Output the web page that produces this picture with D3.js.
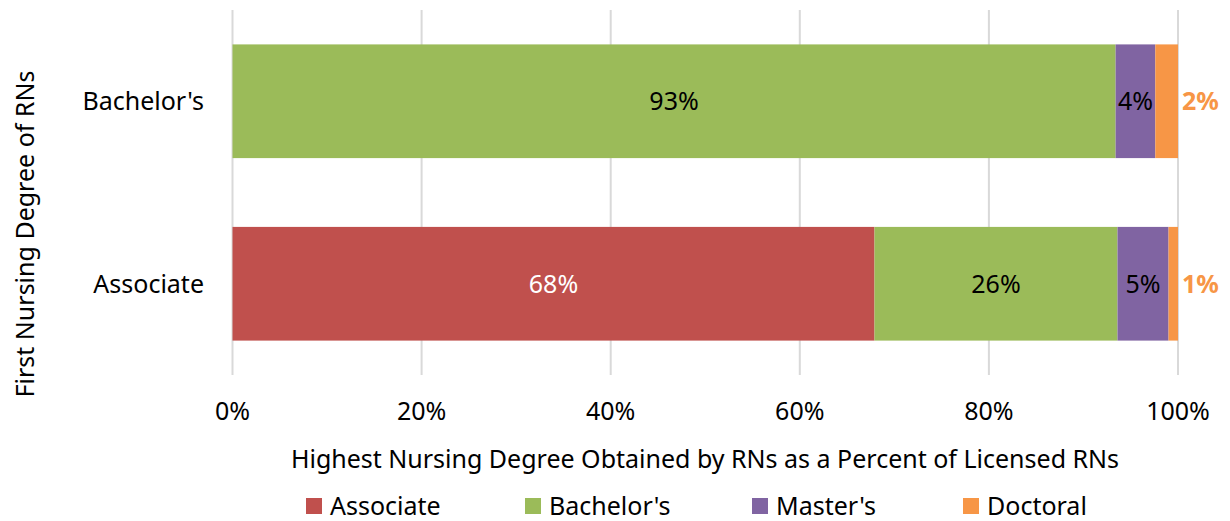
<!DOCTYPE html>
<html>
<head>
<meta charset="utf-8">
<script src="https://cdn.jsdelivr.net/npm/d3@7"></script>
<style>
  body { margin: 0; background: #fff; }
  text { font-family: "Noto Sans", "Open Sans", sans-serif; }
</style>
</head>
<body>
<div id="chart"></div>
<script>
var width = 1230,
    height = 521,
    fs = 25;

// first degree (rows) and highest degree (stacked series), in percent
var categories = ["Bachelor's", "Associate"];
var seriesNames = ["Associate", "Bachelor's", "Master's", "Doctoral"];
var associateVals = [0, 93.4, 4.2, 2.4];     // row: Bachelor's
var bachelorVals = [67.9, 25.7, 5.4, 1.0];   // row: Associate
var labelVals = [["", "93%", "4%", "2%"], ["68%", "26%", "5%", "1%"]];
var tickLabels = ["0%", "20%", "40%", "60%", "80%", "100%"];
var colors = ["#C0504D", "#9BBB59", "#8064A2", "#F79646"];

var rows = [associateVals, bachelorVals];

var svg = d3.select("#chart")
    .append("svg")
    .attr("width", width)
    .attr("height", height);

var x = d3.scaleLinear()
    .domain([0, 100])
    .range([232.5, 1178]);

var y = d3.scaleBand()
    .domain(categories)
    .range([10, 375])
    .paddingInner(0.377)
    .paddingOuter(0.1885);

// gridlines
svg.append("g")
    .selectAll("line")
    .data(d3.range(0, 101, 20))
    .enter()
    .append("line")
    .attr("x1", function(d) { return x(d); })
    .attr("x2", function(d) { return x(d); })
    .attr("y1", 10)
    .attr("y2", 375)
    .attr("stroke", "#D9D9D9")
    .attr("stroke-width", 2);

// stacked segments
var segs = [];
rows.forEach(function(vals, i) {
    var start = 0;
    vals.forEach(function(v, j) {
        segs.push({cat: categories[i], s: j, x0: start, x1: start + v, label: labelVals[i][j]});
        start += v;
    });
});

svg.append("g")
    .selectAll("rect")
    .data(segs.filter(function(d) { return d.x1 > d.x0; }))
    .enter()
    .append("rect")
    .attr("x", function(d) { return x(d.x0); })
    .attr("width", function(d) { return x(d.x1) - x(d.x0); })
    .attr("y", function(d) { return y(d.cat); })
    .attr("height", y.bandwidth())
    .attr("fill", function(d) { return colors[d.s]; });

// data labels
svg.append("g")
    .selectAll("text")
    .data(segs.filter(function(d) { return d.label != ""; }))
    .enter()
    .append("text")
    .text(function(d) { return d.label; })
    .attr("x", function(d) { return d.s == 3 ? x(100) + 4 : x((d.x0 + d.x1) / 2); })
    .attr("y", function(d) { return y(d.cat) + y.bandwidth() / 2; })
    .attr("dy", "0.35em")
    .attr("text-anchor", function(d) { return d.s == 3 ? "start" : "middle"; })
    .attr("font-size", fs)
    .attr("font-weight", function(d) { return d.s == 3 ? "bold" : "normal"; })
    .attr("fill", function(d) {
        if (d.s == 3) return "#F79646";
        if (d.s == 0) return "#fff";
        return "#000";
    });

// category labels
svg.append("g")
    .selectAll("text")
    .data(categories)
    .enter()
    .append("text")
    .text(function(d) { return d; })
    .attr("x", 204)
    .attr("y", function(d) { return y(d) + y.bandwidth() / 2; })
    .attr("dy", "0.35em")
    .attr("text-anchor", "end")
    .attr("font-size", fs)
    .attr("fill", "#000");

// x tick labels
svg.append("g")
    .selectAll("text")
    .data(tickLabels)
    .enter()
    .append("text")
    .text(function(d) { return d; })
    .attr("x", function(d, i) { return x(i * 20); })
    .attr("y", 411)
    .attr("dy", "0.35em")
    .attr("text-anchor", "middle")
    .attr("font-size", fs)
    .attr("fill", "#000");

// axis titles
svg.append("text")
    .text("Highest Nursing Degree Obtained by RNs as a Percent of Licensed RNs")
    .attr("x", 705)
    .attr("y", 459)
    .attr("dy", "0.35em")
    .attr("text-anchor", "middle")
    .attr("font-size", fs)
    .attr("fill", "#000");

svg.append("text")
    .text("First Nursing Degree of RNs")
    .attr("transform", "translate(25,234) rotate(-90)")
    .attr("dy", "0.35em")
    .attr("text-anchor", "middle")
    .attr("font-size", fs)
    .attr("fill", "#000");

// legend
var legendX = [306, 525, 752, 963];
var legend = svg.append("g")
    .selectAll("g")
    .data(seriesNames)
    .enter()
    .append("g")
    .attr("transform", function(d, i) { return "translate(" + legendX[i] + ",506)"; });

legend.append("rect")
    .attr("x", 0)
    .attr("y", -8)
    .attr("width", 16)
    .attr("height", 16)
    .attr("fill", function(d, i) { return colors[i]; });

legend.append("text")
    .text(function(d) { return d; })
    .attr("x", 24)
    .attr("dy", "0.35em")
    .attr("font-size", fs)
    .attr("fill", "#000");
</script>
</body>
</html>
